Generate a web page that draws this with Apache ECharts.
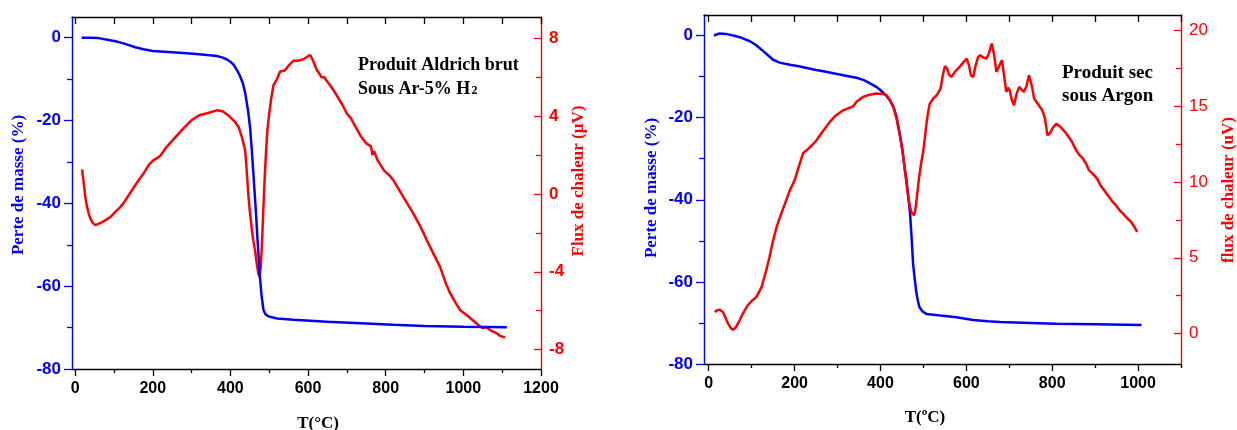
<!DOCTYPE html>
<html>
<head>
<meta charset="utf-8">
<script src="https://cdn.jsdelivr.net/npm/echarts@6/dist/echarts.min.js"></script>
<style>
html,body{margin:0;padding:0;background:#fff;}
#chart{width:1237px;height:430px;}
</style>
</head>
<body>
<div id="chart"></div>
<script>
// ---------- Left chart: Produit Aldrich brut (Ar-5% H2) ----------
const massLeftT = [17,40,60,90,110,133,155,176,200,250,304,340,365,380,390,400,408,418,425,432,438,446,451,455,460,465,470,476,480,485,490,498,520,562,650,750,819,900,1000,1112];
const massLeftV = [0,0,-0.1,-0.6,-1.0,-1.6,-2.3,-2.8,-3.2,-3.5,-3.9,-4.2,-4.4,-4.8,-5.2,-5.8,-6.5,-8,-9.3,-11,-13.3,-18,-22,-27,-34,-41,-49,-57.7,-62,-65.7,-66.7,-67.3,-67.8,-68.1,-68.6,-69.0,-69.3,-69.6,-69.8,-69.9];
const heatLeftT = [18,22,26,30,35,40,46,52,70,90,105,115,124,140,160,176,190,200,219,235,255,279,300,320,340,365,380,399,410,421,430,438,442,446,450,455,459,463.5,468,472,475,478,480.5,484,486.5,489,492,495,499,505,511,520,528,540,550,562,575,590,605,612,622,635,642,647,660,673,688,700,710,721,735,750,762,766,770,780,796,810,820,835,850,871,890,906,920,940,955,966,980,992,1010,1034,1050,1060,1069,1085,1095,1107];
const heatLeftV = [1.27,0.6,-0.1,-0.6,-1.0,-1.3,-1.5,-1.6,-1.45,-1.2,-0.9,-0.7,-0.5,0.0,0.6,1.05,1.5,1.7,1.95,2.4,2.85,3.37,3.8,4.05,4.15,4.3,4.25,3.97,3.75,3.45,2.9,2.25,1.2,0.0,-0.9,-1.8,-2.4,-2.9,-3.6,-4.1,-4.26,-3.8,-2.9,-1.2,0.0,1.1,2.25,3.2,3.97,4.9,5.6,5.9,6.3,6.35,6.6,6.85,6.85,6.95,7.15,6.9,6.4,6.0,6.0,5.85,5.5,5.1,4.6,4.14,3.9,3.5,3.0,2.6,2.45,2.0,2.2,1.7,1.2,0.95,0.7,0.2,-0.3,-1.0,-1.7,-2.38,-2.95,-3.75,-4.6,-5.1,-5.6,-5.98,-6.25,-6.66,-6.9,-6.85,-7.0,-7.15,-7.3,-7.38];

// ---------- Right chart: Produit sec sous Argon ----------
const massRightT = [12,20,26,40,57,75,96,110,127,140,150,165,189,210,228,250,267,290,305,325,344,360,375,390,399,414,422,430,438,446,452,457,461,465,469,473,476,480,484,488,491,498,507,540,577,616,650,678,750,810,900,1008];
const massRightV = [0,0.3,0.5,0.4,0,-0.5,-1.4,-2.3,-3.8,-5.0,-5.9,-6.6,-7.1,-7.5,-7.9,-8.4,-8.7,-9.2,-9.5,-9.9,-10.3,-10.8,-11.6,-12.5,-13.2,-14.7,-15.8,-17.3,-20,-24.6,-28.5,-32.8,-35.5,-39.5,-43.4,-50,-55.6,-59.5,-62.9,-65,-66.2,-67.2,-67.8,-68.2,-68.6,-69.3,-69.6,-69.8,-70.0,-70.2,-70.3,-70.5];
const heatRightT = [14,20,26,33,40,45,52,57,63,72,80,91,100,111,123,134,142,150,158,166,178,189,200,212,220,228,240,251,265,282,297,313,336,345,359,375,390,405,414,422,430,438,446,452,457,462,467,472,478,481,484,488,491,495,499,503,507,511,515,523,531,540,545,550,555,560,566,572,577,585,595,601,606,611,616,621,627,632,640,647,653,659,664,670,676,683,688,693,697,701,706,711,717,723,728,734,740,746,752,758,765,777,783,789,795,802,810,820,833,845,856,864,870,879,885,898,905,912,918,930,941,950,958,965,975,984,992,998];
const heatRightV = [1.43,1.55,1.58,1.43,1.0,0.66,0.35,0.26,0.4,0.88,1.35,1.87,2.15,2.41,3.07,4.17,5.1,6.15,7.0,7.69,8.6,9.45,10.1,11.2,11.9,12.08,12.4,12.74,13.3,13.95,14.4,14.72,14.98,15.3,15.6,15.75,15.82,15.8,15.71,15.4,14.94,14.1,12.96,11.9,10.77,9.6,8.6,8.0,7.8,8.1,8.79,9.8,10.5,11.3,11.87,12.8,13.8,14.6,15.16,15.5,15.71,16.15,17.0,17.62,17.5,17.05,16.92,17.2,17.36,17.6,17.95,18.13,17.7,17.0,16.92,17.6,18.2,18.35,18.2,18.13,18.5,19.12,18.5,17.25,17.6,18.02,17.0,15.93,16.2,16.04,15.4,15.05,15.8,16.26,16.1,15.93,16.3,17.03,16.4,15.49,15.2,14.72,14.2,13.07,13.2,13.6,13.84,13.6,13.18,12.7,12.08,11.75,11.6,11.2,10.8,10.43,10.2,9.8,9.56,9.1,8.68,8.4,8.1,7.91,7.6,7.36,7.0,6.70];

// ---------- Tick values ----------
const xLeftLabels = [0,200,400,600,800,1000,1200];
const xLeftMinor = [100,300,500,700,900,1100];
const xRightLabels = [0,200,400,600,800,1000];
const xRightMinor = [100,300,500,700,900,1100];
const massLabels = [-80,-60,-40,-20,0];
const massMinor = [-70,-50,-30,-10];
const heatLeftLabels = [-8,-4,0,4,8];
const heatLeftMinor = [-6,-2,2,6];
const heatRightLabels = [0,5,10,15,20];
const heatRightMinor = [2.5,7.5,12.5,17.5];

// ---------- Text ----------
const massTitle = 'Perte de masse (%)';
const heatTitleLeft = 'Flux de chaleur (µV)';
const heatTitleRight = 'flux de chaleur (uV)';
const tempTitleLeft = 'T(°C)';
const tempTitleRight = 'T(ºC)';

function zip(a, b) { return a.map((v, i) => [v, b[i]]); }
function range(a, b, s) { const r = []; for (let v = a; v <= b + 1e-9; v += s) r.push(v); return r; }
const plain = v => String(v);

const SANS = 'Liberation Sans';
const SERIF = 'Liberation Serif';
const BLUE = '#0000ff';
const RED = '#ff0000';

function xAxes(grid, min, max, labels, minor, topTicks) {
  return [
    { type: 'value', gridIndex: grid, position: 'bottom', min, max,
      axisLine: { show: true, onZero: false, lineStyle: { color: '#000', width: 1.3 } },
      axisTick: { show: true, inside: false, length: 7, customValues: labels, lineStyle: { color: '#000', width: 1.3 } },
      axisLabel: { show: true, customValues: labels, formatter: plain, margin: 12, color: '#000', fontFamily: SANS, fontWeight: 'bold', fontSize: 16 },
      splitLine: { show: false } },
    { type: 'value', gridIndex: grid, position: 'bottom', min, max,
      axisLine: { show: false, onZero: false },
      axisTick: { show: true, inside: false, length: 4, customValues: minor, lineStyle: { color: '#000', width: 1.3 } },
      axisLabel: { show: false }, splitLine: { show: false } },
    { type: 'value', gridIndex: grid, position: 'top', min, max,
      axisLine: { show: true, onZero: false, lineStyle: { color: '#000', width: 1.3 } },
      axisTick: { show: true, inside: true, length: 7, customValues: topTicks, lineStyle: { color: '#000', width: 1.3 } },
      axisLabel: { show: false }, splitLine: { show: false } }
  ];
}

function yAxes(grid, lmin, lmax, rmin, rmax, rLabels, rMinor, rBold) {
  return [
    { type: 'value', gridIndex: grid, position: 'left', min: lmin, max: lmax,
      axisLine: { show: true, onZero: false, lineStyle: { color: BLUE, width: 1.4 } },
      axisTick: { show: true, inside: false, length: 8, customValues: massLabels, lineStyle: { color: BLUE, width: 1.3 } },
      axisLabel: { show: true, customValues: massLabels, formatter: plain, margin: 11, color: BLUE, fontFamily: SANS, fontWeight: 'bold', fontSize: 17 },
      splitLine: { show: false } },
    { type: 'value', gridIndex: grid, position: 'left', min: lmin, max: lmax,
      axisLine: { show: false, onZero: false },
      axisTick: { show: true, inside: false, length: 5, customValues: massMinor, lineStyle: { color: BLUE, width: 1.3 } },
      axisLabel: { show: false }, splitLine: { show: false } },
    { type: 'value', gridIndex: grid, position: 'right', min: rmin, max: rmax,
      axisLine: { show: true, onZero: false, lineStyle: { color: RED, width: 1.4 } },
      axisTick: { show: true, inside: true, length: 7, customValues: rLabels, lineStyle: { color: RED, width: 1.3 } },
      axisLabel: { show: true, inside: false, customValues: rLabels, formatter: plain, margin: 8, color: RED, fontFamily: SANS, fontWeight: rBold ? 'bold' : 'normal', fontSize: 17 },
      splitLine: { show: false } },
    { type: 'value', gridIndex: grid, position: 'right', min: rmin, max: rmax,
      axisLine: { show: false, onZero: false },
      axisTick: { show: true, inside: true, length: 5, customValues: rMinor, lineStyle: { color: RED, width: 1.3 } },
      axisLabel: { show: false }, splitLine: { show: false } }
  ];
}

function vText(x, y, text, color, size, rot) {
  return { type: 'text', x, y, rotation: rot, silent: true,
    style: { text, fill: color, font: 'bold ' + size + 'px "' + SERIF + '"', textAlign: 'center', textVerticalAlign: 'middle' } };
}
function hText(x, y, text, size, align) {
  return { type: 'text', x, y, silent: true,
    style: { text, fill: '#000', font: 'bold ' + size + 'px "' + SERIF + '"', textAlign: align || 'left', textVerticalAlign: 'alphabetic' } };
}

const chart = echarts.init(document.getElementById('chart'), null, { renderer: 'canvas' });
const option = {
  animation: false,
  backgroundColor: '#fff',
  grid: [
    { left: 72, top: 17, width: 469, height: 352, containLabel: false, outerBoundsMode: 'none' },
    { left: 704, top: 15, width: 477, height: 349, containLabel: false, outerBoundsMode: 'none' }
  ],
  xAxis: [].concat(
    xAxes(0, -8, 1200, xLeftLabels, xLeftMinor, range(0, 1200, 100)),
    xAxes(1, -11, 1100, xRightLabels, xRightMinor, range(0, 1100, 100))
  ),
  yAxis: [].concat(
    yAxes(0, -80, 5, -9, 9.1, heatLeftLabels, heatLeftMinor, true),
    yAxes(1, -80, 5, -2, 21, heatRightLabels, heatRightMinor, false)
  ),
  series: [
    { type: 'line', xAxisIndex: 0, yAxisIndex: 2, data: zip(heatLeftT, heatLeftV), showSymbol: false, lineStyle: { color: RED, width: 2.5 }, itemStyle: { color: RED } },
    { type: 'line', xAxisIndex: 0, yAxisIndex: 0, data: zip(massLeftT, massLeftV), showSymbol: false, lineStyle: { color: BLUE, width: 2.5 }, itemStyle: { color: BLUE } },
    { type: 'line', xAxisIndex: 3, yAxisIndex: 4, data: zip(massRightT, massRightV), showSymbol: false, lineStyle: { color: BLUE, width: 2.5 }, itemStyle: { color: BLUE } },
    { type: 'line', xAxisIndex: 3, yAxisIndex: 6, data: zip(heatRightT, heatRightV), showSymbol: false, lineStyle: { color: RED, width: 2.5 }, itemStyle: { color: RED } }
  ],
  graphic: [
    vText(18.5, 185, massTitle, BLUE, 17, Math.PI / 2),
    vText(579, 181, heatTitleLeft, RED, 17, Math.PI / 2),
    vText(651.5, 188, massTitle, BLUE, 17, Math.PI / 2),
    vText(1229, 190, heatTitleRight, RED, 17, Math.PI / 2),
    vText(318, 424, tempTitleLeft, '#000', 17, 0),
    vText(925, 418, tempTitleRight, '#000', 17, 0),
    hText(358, 56, 'Produit Aldrich brut', 18),
    hText(358, 80, 'Sous Ar-5% H', 18),
    hText(471.5, 85, '2', 12),
    hText(1062, 63.5, 'Produit sec', 19),
    hText(1062, 87, 'sous Argon', 19)
  ]
};
chart.setOption(option);
</script>
</body>
</html>
